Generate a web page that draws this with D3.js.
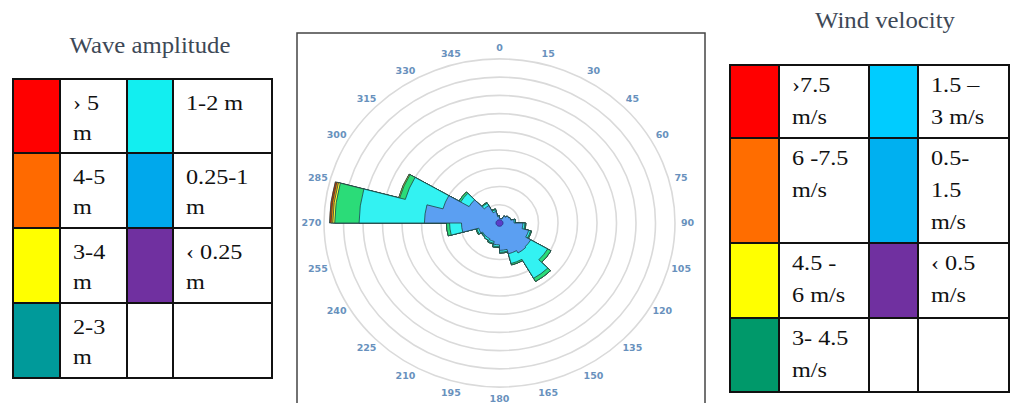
<!DOCTYPE html>
<html>
<head>
<meta charset="utf-8">
<script src="https://cdn.jsdelivr.net/npm/d3@7"></script>
<style>
  html, body { margin: 0; padding: 0; background: #fff; }
  svg { display: block; }
</style>
</head>
<body>
<svg id="chart" width="1010" height="403"></svg>
<script>
// ---------------- DATA ----------------
const directions = [0, 15, 30, 45, 60, 75, 90, 105, 120, 135, 150, 165, 180, 195, 210, 225, 240, 255, 270, 285, 300, 315, 330, 345];
const directionLabels = ["0", "15", "30", "45", "60", "75", "90", "105", "120", "135", "150", "165", "180", "195", "210", "225", "240", "255", "270", "285", "300", "315", "330", "345"];
const sectorWidth = 15;
const ringValues = [1, 2, 3, 4, 5, 6, 7, 8, 9];

// frequency per speed class and direction (stacked outward)
const classLt05   = [0.18, 0.18, 0.18, 0.18, 0.18, 0.18, 0.18, 0.18, 0.18, 0.18, 0.18, 0.18, 0.18, 0.18, 0.18, 0.18, 0.18, 0.18, 0.18, 0.18, 0.18, 0.18, 0.18, 0.18];
const class05_15  = [0.07, 0.07, 0.27, 0.37, 0.42, 0.57, 1.02, 1.37, 1.67, 1.72, 1.57, 1.32, 1.02, 0.87, 0.82, 0.82, 0.92, 1.77, 3.67, 2.82, 1.62, 0.92, 0.47, 0.17];
const class15_3   = [0, 0, 0, 0, 0, 0.07, 0.10, 0.10, 1.00, 1.60, 0.55, 0.10, 0.10, 0.10, 0.10, 0.05, 0.10, 0.61, 3.35, 2.00, 0.50, 0.15, 0.10, 0.05];
const class3_45   = [0, 0, 0, 0, 0, 0, 0.05, 0.05, 0.20, 0.20, 0.08, 0.05, 0.05, 0.05, 0.02, 0.03, 0.05, 0.16, 1.25, 0.30, 0.10, 0.05, 0.05, 0];
const class45_6   = [0, 0, 0, 0, 0, 0, 0, 0, 0, 0, 0, 0, 0, 0, 0, 0, 0, 0, 0.10, 0.05, 0, 0, 0, 0];
const class6_75   = [0, 0, 0, 0, 0, 0, 0, 0, 0, 0, 0, 0, 0, 0, 0, 0, 0, 0, 0.09, 0, 0, 0, 0, 0];
const classGt75   = [0, 0, 0, 0, 0, 0, 0, 0, 0, 0, 0, 0, 0, 0, 0, 0, 0, 0, 0.08, 0, 0, 0, 0, 0];
const roseSeries = [classLt05, class05_15, class15_3, class3_45, class45_6, class6_75, classGt75];
const roseColors = ["#5a3fc8", "#5b9ff2", "#33f2f2", "#2bdc78", "#ffff33", "#ff8c00", "#c83200"];

// legends
const waveTitle = "Wave amplitude";
const waveLabels = [["› 5", "m"], ["4-5", "m"], ["3-4", "m"], ["2-3", "m"], ["1-2 m"], ["0.25-1", "m"], ["‹ 0.25", "m"], null];
const waveColors = ["#ff0000", "#ff6a00", "#ffff00", "#009a9a", "#12eef0", "#00a8ec", "#7030a0", null];

const windTitle = "Wind velocity";
const windLabels = [["›7.5", "m/s"], ["6 -7.5", "m/s"], ["4.5 -", "6 m/s"], ["3- 4.5", "m/s"], ["1.5 –", "3 m/s"], ["0.5-", "1.5", "m/s"], ["‹ 0.5", "m/s"], null];
const windColors = ["#ff0000", "#ff6d00", "#ffff00", "#00996a", "#00ccff", "#00b0f0", "#7030a0", null];

// ---------------- DRAW ----------------
const svg = d3.select("#chart");

// ---- Rose ----
const cx = 499.5, cy = 223, ky = 0.935;
const frame = {x: 297, y: 33, w: 408, h: 380};
svg.append("rect").attr("x", frame.x).attr("y", frame.y).attr("width", frame.w).attr("height", frame.h)
  .attr("fill", "#fff").attr("stroke", "#444").attr("stroke-width", 1.5);

const r = d3.scaleLinear().domain([0, 9]).range([0, 175.5]);
const g = svg.append("g").attr("transform", `translate(${cx},${cy}) scale(1,${ky})`);

g.selectAll("circle.ring").data(ringValues).join("circle")
  .attr("class", "ring").attr("r", d => r(d))
  .attr("fill", "none").attr("stroke", "#dadada").attr("stroke-width", 1.6)
  .attr("vector-effect", "non-scaling-stroke");

// stack the classes
const table = directions.map((d, i) => {
  const o = {dir: d};
  roseSeries.forEach((s, k) => o["c" + k] = s[i]);
  return o;
});
const keys = roseSeries.map((s, k) => "c" + k);
const stacked = d3.stack().keys(keys)(table);
const toRad = a => a * Math.PI / 180;

// one outline per class: the union of all sectors out to that class's cumulative value
function layerPath(layer) {
  const p = d3.path();
  layer.forEach(d => {
    const a0 = toRad(d.data.dir) - Math.PI / 2;
    const a1 = toRad(d.data.dir + sectorWidth) - Math.PI / 2;
    p.arc(0, 0, r(d[1]), a0, a1);
  });
  p.closePath();
  return p.toString();
}

g.selectAll("path.layer")
  .data(stacked.slice().reverse())
  .join("path")
  .attr("class", "layer")
  .attr("d", layerPath)
  .attr("fill", d => roseColors[keys.indexOf(d.key)])
  .attr("stroke", d => d.key === "c0" ? "#2a2a80" : "#1e4444")
  .attr("stroke-width", 0.8)
  .attr("stroke-linejoin", "round")
  .attr("vector-effect", "non-scaling-stroke");

// direction labels
const labelR = 188;
svg.append("g").selectAll("text").data(directions).join("text")
  .attr("x", d => cx + labelR * Math.sin(toRad(d)))
  .attr("y", d => cy - labelR * Math.cos(toRad(d)) * ky)
  .attr("dy", "0.35em")
  .attr("text-anchor", "middle")
  .attr("font-family", "DejaVu Sans, Verdana, sans-serif")
  .attr("font-weight", "bold")
  .attr("font-size", 9.5)
  .attr("fill", "#6891bd")
  .text((d, i) => directionLabels[i]);

// ---- Legend tables ----
function drawLegend(opts) {
  const {title, titleX, titleY, x0, cols, rows, labels, colors, firstBase, lineGap} = opts;
  const lg = svg.append("g");
  const xs = [x0];
  cols.forEach(w => xs.push(xs[xs.length - 1] + w));
  lg.append("text").attr("transform", `translate(${titleX},${titleY}) scale(1.1,1)`)
    .attr("text-anchor", "middle")
    .attr("font-family", "Liberation Serif, Times New Roman, serif")
    .attr("font-size", 22.5).attr("fill", "#3d4856").text(title);
  const nRows = rows.length - 1;
  labels.forEach((lab, i) => {
    const col = Math.floor(i / nRows), row = i % nRows;
    const sx = xs[col * 2], tx = xs[col * 2 + 1];
    const y0 = rows[row], h = rows[row + 1] - rows[row];
    lg.append("rect").attr("x", sx).attr("y", y0).attr("width", tx - sx).attr("height", h)
      .attr("fill", colors[i] || "#fff").attr("stroke", "#111").attr("stroke-width", 2);
    lg.append("rect").attr("x", tx).attr("y", y0).attr("width", xs[col * 2 + 2] - tx).attr("height", h)
      .attr("fill", "#fff").attr("stroke", "#111").attr("stroke-width", 2);
    if (lab) {
      lab.forEach((line, j) => {
        lg.append("text")
          .attr("transform", `translate(${tx + 13},${y0 + firstBase + j * lineGap}) scale(1.1,1)`)
          .attr("font-family", "Liberation Serif, Times New Roman, serif")
          .attr("font-size", 22).attr("fill", "#111").text(line);
      });
    }
  });
}

drawLegend({
  title: waveTitle, titleX: 150, titleY: 53,
  x0: 13, cols: [47, 67, 46, 99], rows: [79, 153, 228, 303, 378],
  labels: waveLabels, colors: waveColors, firstBase: 31, lineGap: 30
});
drawLegend({
  title: windTitle, titleX: 885, titleY: 28,
  x0: 730, cols: [49, 90, 49, 91], rows: [65, 138, 243, 318, 392],
  labels: windLabels, colors: windColors, firstBase: 27, lineGap: 32
});
</script>
</body>
</html>
